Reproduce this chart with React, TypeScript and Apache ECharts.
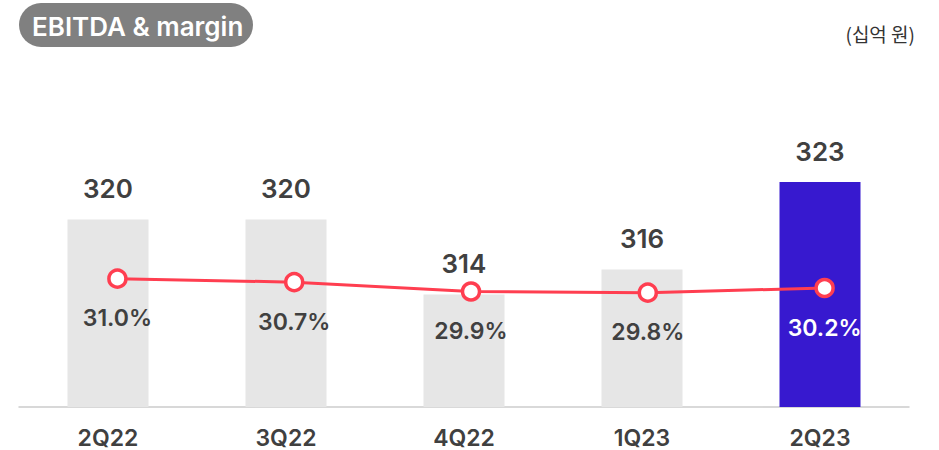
import React, { useEffect, useRef } from "react";
import * as echarts from "echarts";

const categories = ["2Q22", "3Q22", "4Q22", "1Q23", "2Q23"];
const ebitda = [320, 320, 314, 316, 323];
const margin = [31.0, 30.7, 29.9, 29.8, 30.2];
const highlightIndex = 4;

const FONT = "Inter, 'Noto Sans CJK KR', sans-serif";
const TEXT = "#404040";
const BAR_GRAY = "#e6e6e6";
const BAR_HL = "#3719cf";
const LINE_RED = "#ff3e50";

export default function App() {
  const ref = useRef<HTMLDivElement>(null);
  useEffect(() => {
    if (!ref.current) return;
    const chart = echarts.init(ref.current, null, { renderer: "svg" });
    chart.setOption({
      animation: false,
      backgroundColor: "#ffffff",
      grid: [
        { left: 19, width: 890, top: 57, height: 350 },
        { left: 29, width: 884, top: 57, height: 350 },
      ],
      xAxis: [
        {
          type: "category",
          gridIndex: 0,
          data: categories,
          axisLine: { show: true, lineStyle: { color: "#cccccc", width: 1.5 } },
          axisTick: { show: false },
          axisLabel: {
            color: TEXT,
            fontFamily: FONT,
            fontSize: 23,
            fontWeight: 600,
            margin: 19,
          },
        },
        {
          type: "category",
          gridIndex: 1,
          data: categories,
          show: false,
        },
      ],
      yAxis: [
        { type: "value", gridIndex: 0, min: 305, max: 333, show: false, splitLine: { show: false } },
        { type: "value", gridIndex: 1, min: 20, max: 50, show: false, splitLine: { show: false } },
      ],
      graphic: [
        {
          type: "rect",
          left: 19,
          top: 3,
          shape: { width: 234, height: 44, r: 22 },
          style: { fill: "#808080" },
        },
        {
          type: "text",
          x: 32,
          y: 26,
          style: {
            text: "EBITDA & margin",
            fill: "#ffffff",
            font: `600 26px ${FONT}`,
            verticalAlign: "middle",
            textVerticalAlign: "middle",
          },
        },
        {
          type: "text",
          x: 915,
          y: 33,
          style: {
            text: "(십억 원)",
            fill: "#333333",
            font: `400 19px 'Noto Sans CJK KR', sans-serif`,
            align: "right",
            textAlign: "right",
            verticalAlign: "middle",
            textVerticalAlign: "middle",
          },
        },
      ],
      series: [
        {
          type: "bar",
          xAxisIndex: 0,
          yAxisIndex: 0,
          barWidth: 81,
          data: ebitda.map((v, i) => ({
            value: v,
            itemStyle: { color: i === highlightIndex ? BAR_HL : BAR_GRAY },
          })),
          label: {
            show: true,
            position: "top",
            distance: 18,
            color: TEXT,
            fontFamily: FONT,
            fontSize: 26,
            fontWeight: 600,
          },
        },
        {
          type: "line",
          xAxisIndex: 1,
          yAxisIndex: 1,
          data: margin.map((v, i) => ({
            value: v,
            label: { color: i === highlightIndex ? "#ffffff" : TEXT },
          })),
          lineStyle: { color: LINE_RED, width: 3 },
          symbol: "circle",
          symbolSize: 17,
          itemStyle: { color: "#ffffff", borderColor: LINE_RED, borderWidth: 3.5 },
          label: {
            show: true,
            position: "bottom",
            distance: 18,
            fontFamily: FONT,
            fontSize: 23,
            fontWeight: 600,
            formatter: (p: any) => `${Number(p.value).toFixed(1)}%`,
          },
          z: 5,
        },
      ],
    });
    return () => chart.dispose();
  }, []);
  return (
    <div
      ref={ref}
      style={{ position: "absolute", left: 0, top: 0, width: 939, height: 450 }}
    />
  );
}
